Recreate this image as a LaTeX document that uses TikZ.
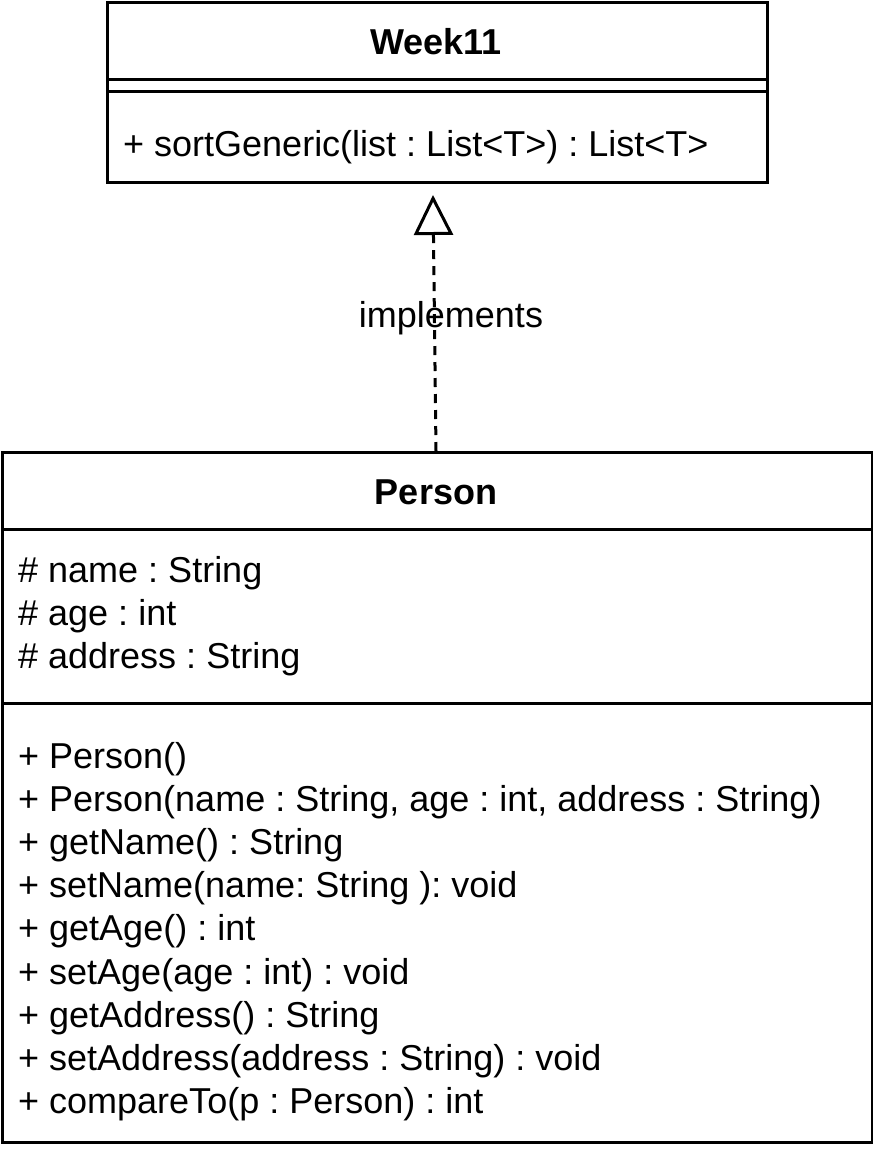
\documentclass[tikz,border=0pt]{standalone}
\usepackage{fontspec}
\setmainfont{Liberation Sans}
\usetikzlibrary{arrows.meta}
\frenchspacing
\begin{document}
\frenchspacing
\begin{tikzpicture}[x=1pt,y=-1pt,
  lw/.style={line width=3pt},
  txt/.style={inner sep=0pt,text height=26pt,text depth=0pt,font=\fontsize{36}{43.2}\selectfont\frenchspacing},
  item/.style={txt,anchor=west},
  title/.style={txt,anchor=center,font=\fontsize{36}{43.2}\selectfont\bfseries}]
\useasboundingbox (0,0) rectangle (873,1152);
% Week11 box
\node[draw,lw,minimum width=660pt,minimum height=180pt,inner sep=0pt,anchor=north west] (week) at (106,1) {};
\draw[lw] (106,79) -- (766,79);
\draw[lw] (106,91) -- (766,91);
\node[title] (wtitle) at (436,41) {Week11};
\node[item] (wm1) at (123,143) {+ sortGeneric(list : List<T>) : List<T>};
% Person box
\node[draw,lw,minimum width=870pt,minimum height=690pt,inner sep=0pt,anchor=north west] (person) at (1,451) {};
\draw[lw] (1,529) -- (871,529);
\draw[lw] (1,703) -- (871,703);
\node[title] (ptitle) at (436,491) {Person};
\node[item] (a1) at (18,569) {\# name : String};
\node[item] (a2) at (18,612.2) {\# age : int};
\node[item] (a3) at (18,655.4) {\# address : String};
\node[item] (m1) at (18,755) {+ Person()};
\node[item] (m2) at (18,798.2) {+ Person(name : String, age : int, address : String)};
\node[item] (m3) at (18,841.4) {+ getName() : String};
\node[item] (m4) at (18,884.6) {+ setName(name: String ): void};
\node[item] (m5) at (18,927.8) {+ getAge() : int};
\node[item] (m6) at (18,971) {+ setAge(age : int) : void};
\node[item] (m7) at (18,1014.2) {+ getAddress() : String};
\node[item] (m8) at (18,1057.4) {+ setAddress(address : String) : void};
\node[item] (m9) at (18,1100.6) {+ compareTo(p : Person) : int};
% realization
\coordinate (tip) at (433,195);
\coordinate (src) at (436,451);
\draw[lw,dash pattern=on 9pt off 7pt,-{Triangle[open,length=40pt,width=39pt,line width=3pt]}] (src) -- (tip);
\node[txt,anchor=center] (lab) at (451,314) {implements};
\end{tikzpicture}
\end{document}
